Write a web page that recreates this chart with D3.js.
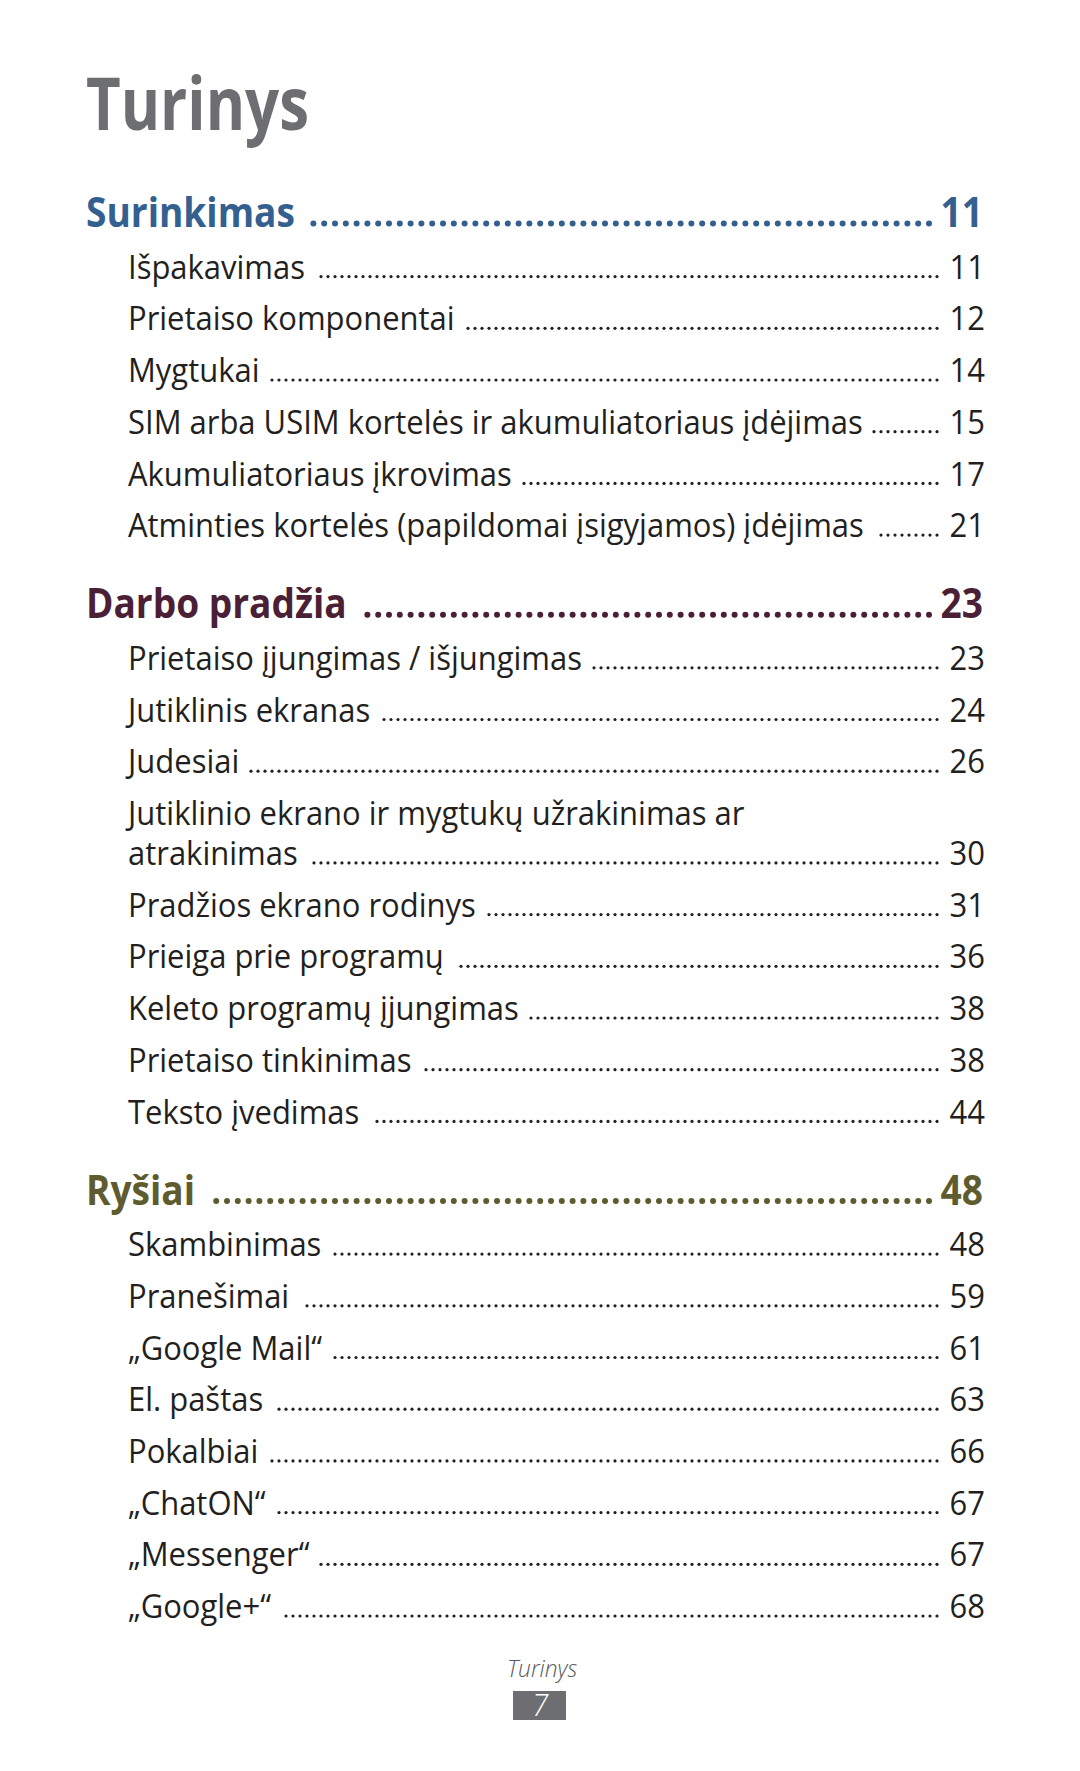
<!DOCTYPE html>
<html>
<head>
<meta charset="utf-8">
<script src="https://cdn.jsdelivr.net/npm/d3@7"></script>
<style>
body { margin: 0; background: #fff; }
svg { display: block; }
</style>
</head>
<body>
<div id="page"></div>
<script>
// contents of the page
var pageTitle = "Turinys";
var sectionTitles = ["Surinkimas", "Darbo pradžia", "Ryšiai"];
var sectionPages = ["11", "23", "48"];

var surinkimasItems = ["Išpakavimas", "Prietaiso komponentai", "Mygtukai",
    "SIM arba USIM kortelės ir akumuliatoriaus įdėjimas", "Akumuliatoriaus įkrovimas",
    "Atminties kortelės (papildomai įsigyjamos) įdėjimas"];
var surinkimasPages = ["11", "12", "14", "15", "17", "21"];

var darboItems = ["Prietaiso įjungimas / išjungimas", "Jutiklinis ekranas", "Judesiai",
    "Jutiklinio ekrano ir mygtukų užrakinimas ar atrakinimas", "Pradžios ekrano rodinys",
    "Prieiga prie programų", "Keleto programų įjungimas", "Prietaiso tinkinimas", "Teksto įvedimas"];
var darboPages = ["23", "24", "26", "30", "31", "36", "38", "38", "44"];

var rysiaiItems = ["Skambinimas", "Pranešimai", "„Google Mail“", "El. paštas", "Pokalbiai",
    "„ChatON“", "„Messenger“", "„Google+“"];
var rysiaiPages = ["48", "59", "61", "63", "66", "67", "67", "68"];

var footerLabel = "Turinys";
var pageNumber = "7";

var sections = [
    {title: sectionTitles[0], page: sectionPages[0], items: surinkimasItems, pages: surinkimasPages, color: "#33608f"},
    {title: sectionTitles[1], page: sectionPages[1], items: darboItems, pages: darboPages, color: "#4b1f35"},
    {title: sectionTitles[2], page: sectionPages[2], items: rysiaiItems, pages: rysiaiPages, color: "#5e5c2e"}
];

var width = 1080, height = 1771;
var font = "'Open Sans', 'Noto Sans', sans-serif";
var textColor = "#231f20";

var svg = d3.select("#page").append("svg")
    .attr("width", width)
    .attr("height", height);

function measure(str, size, weight, style) {
    var t = svg.append("text")
        .style("font-family", font)
        .style("font-size", size + "px")
        .style("font-weight", weight)
        .style("font-style", style || "normal")
        .text(str);
    var w = t.node().getComputedTextLength();
    t.remove();
    return w;
}

var itemSize = 33, headSize = 42, titleSize = 74;
// squeeze the wide sans a bit so it sits like the narrow original face
var itemSx = 177 / measure("Išpakavimas", itemSize, 400);
var headSx = 209 / measure("Surinkimas", headSize, 700);
var titleSx = 223 / measure("Turinys", titleSize, 700);

function label(str, x, y, size, weight, color, sx, anchor, style) {
    var t = svg.append("text")
        .attr("transform", "translate(" + x + "," + y + ") scale(" + sx + ",1)")
        .attr("text-anchor", anchor || "start")
        .style("font-family", font)
        .style("font-size", size + "px")
        .style("font-weight", weight)
        .style("font-style", style || "normal")
        .attr("fill", color)
        .text(str);
    return t.node().getComputedTextLength() * sx;
}

// leader dots sit on a fixed grid that ends just before the page number
function leader(y, textEnd, endX, step, r, color, minGap) {
    var xs = d3.range(endX, textEnd + minGap, -step);
    svg.append("g").selectAll("circle")
        .data(xs).enter().append("circle")
        .attr("cx", function(d){ return d; })
        .attr("cy", y - r - 0.5)
        .attr("r", r)
        .attr("fill", color);
}

function wrap(str, maxW) {
    var words = str.split(" "), lines = [], line = "";
    words.forEach(function(w){
        var test = line ? line + " " + w : w;
        if (line && measure(test, itemSize, 400) * itemSx > maxW) {
            lines.push(line);
            line = w;
        } else {
            line = test;
        }
    });
    lines.push(line);
    return lines;
}

var leftHead = 86, leftItem = 128, rightNum = 985;
var headDotEnd = 929, itemDotEnd = 937;
var rowStep = 51.7, wrapStep = 40, sectionGap = 81;

label(pageTitle, leftHead, 130, titleSize, 700, "#6d6e71", titleSx);

var y = 227;
sections.forEach(function(s, si){
    if (si > 0) y += sectionGap;
    var w = label(s.title, leftHead, y, headSize, 700, s.color, headSx);
    label(s.page, rightNum - 2, y, headSize, 700, s.color, headSx, "end");
    leader(y, leftHead + w, headDotEnd, 10.8, 3, s.color, 14);

    s.items.forEach(function(item, i){
        y += rowStep;
        var lines = wrap(item, 780);
        lines.forEach(function(ln, li){
            if (li > 0) y += wrapStep;
            var lw = label(ln, leftItem, y, itemSize, 400, textColor, itemSx);
            if (li == lines.length - 1) {
                leader(y, leftItem + lw, itemDotEnd, 7, 1.6, textColor, 11);
                label(s.pages[i], rightNum, y, itemSize, 400, textColor, itemSx, "end");
            }
        });
    });
});

// footer
label(footerLabel, 542, 1677, 24, 300, "#58595b", 0.95, "middle", "italic");
svg.append("rect")
    .attr("x", 513).attr("y", 1691)
    .attr("width", 53).attr("height", 29)
    .attr("fill", "#6d6e71");
label(pageNumber, 540, 1716, 31, 300, "#ffffff", 0.95, "middle", "italic");
</script>
</body>
</html>
